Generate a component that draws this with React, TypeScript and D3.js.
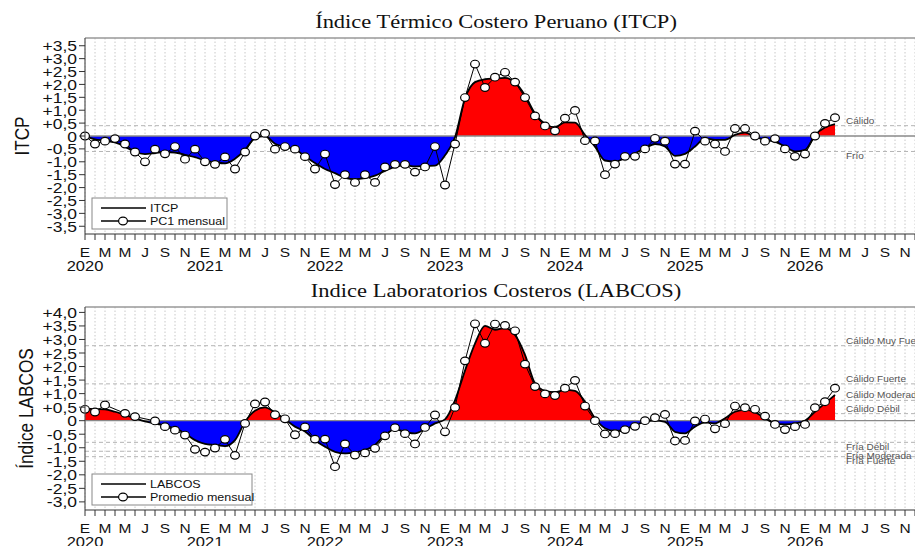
import React from "react";
import * as d3 from "d3";

// ---------- DATA ----------
const monthLabels = ["E", "M", "M", "J", "S", "N"];
const yearLabels = ["2020", "2021", "2022", "2023", "2024", "2025", "2026"];

const itcpMonthly: number[] = [
  0.0, -0.31, -0.2, -0.1, -0.31, -0.62, -1.0, -0.51, -0.69, -0.41, -0.9, -0.51,
  -1.0, -1.1, -0.81, -1.28, -0.62, 0.0, 0.1, -0.51, -0.41, -0.51, -0.8, -1.28,
  -0.7, -1.88, -1.5, -1.8, -1.5, -1.8, -1.2, -1.1, -1.1, -1.4, -1.2, -0.41,
  -1.9, -0.31, 1.49, 2.79, 1.88, 2.28, 2.47, 2.09, 1.49, 0.78, 0.39, 0.2,
  0.69, 0.99, -0.18, -0.19, -1.5, -1.09, -0.79, -0.79, -0.5, -0.09, -0.2, -1.09,
  -1.09, 0.19, -0.2, -0.31, -0.6, 0.29, 0.29, 0.0, -0.2, -0.1, -0.5, -0.79,
  -0.7, 0.0, 0.49, 0.71,
];

const itcpSmooth: number[] = [
  0.0, -0.13, -0.18, -0.25, -0.41, -0.62, -0.7, -0.66, -0.62, -0.64, -0.73, -0.82,
  -0.95, -1.02, -1.06, -0.88, -0.54, -0.08, 0.0, -0.3, -0.42, -0.52, -0.78, -1.05,
  -1.28, -1.44, -1.62, -1.67, -1.63, -1.54, -1.35, -1.2, -1.13, -1.18, -1.16, -1.15,
  -0.75, -0.05, 1.46, 2.09, 2.2, 2.23, 2.25, 2.08, 1.58, 0.87, 0.47, 0.34,
  0.53, 0.52, 0.04, -0.41, -0.95, -0.99, -0.86, -0.67, -0.47, -0.31, -0.41, -0.77,
  -0.69, -0.41, -0.09, -0.15, -0.15, 0.04, 0.13, -0.03, -0.15, -0.22, -0.41, -0.6,
  -0.54, 0.04, 0.33, 0.46,
];

const labcosMonthly: (number | null)[] = [
  0.42, 0.32, 0.58, null, 0.27, 0.15, null, -0.01, -0.22, -0.35, -0.53, -1.06,
  -1.16, -1.01, -0.69, -1.28, -0.1, 0.62, 0.69, 0.22, 0.07, -0.52, -0.23, -0.68,
  -0.68, -1.7, -0.86, -1.27, -1.19, -1.02, -0.56, -0.26, -0.48, -0.86, -0.25, 0.21,
  -0.41, 0.49, 2.21, 3.58, 2.86, 3.57, 3.52, 3.32, 2.09, 1.26, 0.99, 0.93,
  1.2, 1.49, 0.54, 0.0, -0.49, -0.48, -0.33, -0.21, 0.0, 0.11, 0.23, -0.75,
  -0.73, -0.01, 0.06, -0.3, -0.11, 0.54, 0.48, 0.42, 0.17, -0.14, -0.33, -0.22,
  -0.14, 0.48, 0.7, 1.2,
];

const labcosSmooth: number[] = [
  0.44, 0.43, 0.42, 0.33, 0.21, 0.09, -0.03, -0.1, -0.19, -0.28, -0.47, -0.72,
  -0.86, -0.9, -0.94, -0.72, -0.04, 0.37, 0.49, 0.3, 0.05, -0.22, -0.4, -0.72,
  -0.96, -1.15, -1.21, -1.17, -1.09, -0.9, -0.53, -0.32, -0.41, -0.47, -0.31, -0.1,
  0.05, 0.75, 1.85, 2.85, 3.5, 3.36, 3.42, 3.17, 2.43, 1.38, 1.1, 1.05,
  1.14, 1.1, 0.7, 0.09, -0.28, -0.38, -0.31, -0.16, -0.04, 0.0, -0.04, -0.41,
  -0.47, -0.22, -0.06, -0.1, 0.09, 0.33, 0.4, 0.31, 0.09, -0.1, -0.14, -0.1,
  0.0, 0.33, 0.64, 0.95,
];

const itcpThresholdValues = [0.4, -0.6];
const itcpThresholdLabels = ["Cálido", "Frío"];
const labcosThresholdValues = [2.77, 1.36, 0.75, 0.26, -0.8, -1.13, -1.33];
const labcosThresholdLabels = [
  "Cálido Muy Fuerte", "Cálido Fuerte", "Cálido Moderado", "Cálido Débil",
  "Fría Débil", "Fría Moderada", "Fría Fuerte",
];

const itcpTicks = d3.range(-3.5, 3.51, 0.5);
const labcosTicks = d3.range(-3.0, 4.01, 0.5);

// ---------- LAYOUT ----------
const W = 915;
const H = 546;
const X0 = 85;
const X1 = 915;
const NMONTHS = 84;
const SANS = "'Liberation Sans', Arial, sans-serif";
const SERIF = "'Liberation Serif', 'Times New Roman', serif";
const SY = 0.85;

const x = d3.scaleLinear().domain([0, NMONTHS - 1]).range([X0, X1]);

function fmt(v: number) {
  if (Math.abs(v) < 1e-9) return "0";
  return (v > 0 ? "+" : "-") + Math.abs(v).toFixed(1).replace(".", ",");
}

function T(props: any) {
  const { x: tx, y: ty, sy = SY, rotate, children, ...rest } = props;
  const tr = rotate
    ? `translate(${tx},${ty}) rotate(${rotate}) scale(${sy},1)`
    : `translate(${tx},${ty}) scale(1,${sy})`;
  return (
    <text transform={tr} {...rest}>
      {children}
    </text>
  );
}

interface PanelProps {
  id: string;
  top: number;
  bottom: number;
  yDomain: [number, number];
  ticks: number[];
  title: string;
  titleY: number;
  yTitle: string;
  yTitleX: number;
  monthly: (number | null)[];
  smooth: number[];
  thrVals: number[];
  thrLabels: string[];
  legendLabels: string[];
  legendW: number;
}

function Panel(p: PanelProps) {
  const y = d3.scaleLinear().domain(p.yDomain).range([p.bottom, p.top]);
  const y0 = y(0);
  const area = d3
    .area<number>()
    .x((_, i) => x(i))
    .y0(y0)
    .y1((d) => y(d))
    .curve(d3.curveMonotoneX);
  const sLine = d3
    .line<number>()
    .x((_, i) => x(i))
    .y((d) => y(d))
    .curve(d3.curveMonotoneX);
  const pts = p.monthly
    .map((v, i) => ({ i, v }))
    .filter((d) => d.v !== null) as { i: number; v: number }[];
  const mLine = d3
    .line<{ i: number; v: number }>()
    .x((d) => x(d.i))
    .y((d) => y(d.v));
  const months = d3.range(NMONTHS);
  const lgTop = p.bottom - 36;
  const lgX = 92;
  return (
    <g>
      <defs>
        <clipPath id={`${p.id}-pos`}>
          <rect x={X0} y={p.top} width={X1 - X0} height={y0 - p.top} />
        </clipPath>
        <clipPath id={`${p.id}-neg`}>
          <rect x={X0} y={y0} width={X1 - X0} height={p.bottom - y0} />
        </clipPath>
      </defs>
      {/* title */}
      <T x={496} y={p.titleY} sy={0.86} textAnchor="middle" fontFamily={SERIF} fontSize={22.5} fill="#111">
        {p.title}
      </T>
      {/* grid */}
      {months.map((m) => (
        <line key={`g${m}`} x1={x(m)} x2={x(m)} y1={p.top} y2={p.bottom} stroke="#c8c8c8" strokeWidth={1} strokeDasharray="1.5,2" />
      ))}
      {/* thresholds */}
      {p.thrVals.map((v, k) => (
        <line key={`t${k}`} x1={X0} x2={X1} y1={y(v)} y2={y(v)} stroke="#b4b4b4" strokeWidth={1} strokeDasharray="4,3" />
      ))}
      {/* fills */}
      <path d={area(p.smooth) || ""} fill="#ff0000" clipPath={`url(#${p.id}-pos)`} />
      <path d={area(p.smooth) || ""} fill="#0000ff" clipPath={`url(#${p.id}-neg)`} />
      {/* zero line */}
      <line x1={X0} x2={X1} y1={y0} y2={y0} stroke="#8a8a8a" strokeWidth={1.3} />
      {/* threshold labels */}
      {p.thrVals.map((v, k) => (
        <T key={`tl${k}`} x={846} y={v > 0 ? y(v) - 2 : y(v) + 7.5} sy={0.88} fontFamily={SANS} fontSize={10} fill="#555">
          {p.thrLabels[k]}
        </T>
      ))}
      {/* smooth line */}
      <path d={sLine(p.smooth) || ""} fill="none" stroke="#000" strokeWidth={1.8} />
      {/* monthly line + markers */}
      <path d={mLine(pts) || ""} fill="none" stroke="#000" strokeWidth={1} />
      {pts.map((d) => (
        <ellipse key={`c${d.i}`} cx={x(d.i)} cy={y(d.v)} rx={4.4} ry={3.8} fill="#fff" stroke="#000" strokeWidth={1.2} />
      ))}
      {/* frame */}
      <line x1={X0} x2={X1} y1={p.top} y2={p.top} stroke="#999" strokeWidth={1.5} />
      <line x1={X0} x2={X0} y1={p.top} y2={p.bottom} stroke="#555" strokeWidth={1.2} />
      <line x1={X0} x2={X1} y1={p.bottom} y2={p.bottom} stroke="#333" strokeWidth={1} />
      {/* y ticks */}
      {p.ticks.map((t, k) => (
        <g key={`yt${k}`}>
          <line x1={X0 - 6} x2={X0} y1={y(t)} y2={y(t)} stroke="#333" strokeWidth={1} />
          <T x={X0 - 8} y={y(t) + 5.5} textAnchor="end" fontFamily={SANS} fontSize={17.5} fill="#111">
            {fmt(t)}
          </T>
        </g>
      ))}
      {/* x ticks */}
      {months.map((m) => (
        <line key={`xt${m}`} x1={x(m)} x2={x(m)} y1={p.bottom} y2={p.bottom + 6} stroke="#333" strokeWidth={1} />
      ))}
      {months
        .filter((m) => m % 2 === 0)
        .map((m) => (
          <T key={`xl${m}`} x={x(m)} y={p.bottom + 23} textAnchor="middle" fontFamily={SANS} fontSize={15.5} fill="#111">
            {monthLabels[(m % 12) / 2]}
          </T>
        ))}
      {yearLabels.map((yl, k) => (
        <T key={`yl${k}`} x={x(k * 12)} y={p.bottom + 37} textAnchor="middle" fontFamily={SANS} fontSize={16.5} fill="#111">
          {yl}
        </T>
      ))}
      {/* y title */}
      <T x={p.yTitleX} y={(p.top + p.bottom) / 2} sy={0.82} rotate={-90} textAnchor="middle" fontFamily={SANS} fontSize={21} fill="#111">
        {p.yTitle}
      </T>
      {/* legend */}
      <rect x={lgX} y={lgTop} width={p.legendW} height={31} fill="#fff" stroke="#888" strokeWidth={1} />
      <line x1={lgX + 9} x2={lgX + 54} y1={lgTop + 10} y2={lgTop + 10} stroke="#000" strokeWidth={1.3} />
      <line x1={lgX + 9} x2={lgX + 54} y1={lgTop + 23} y2={lgTop + 23} stroke="#000" strokeWidth={1.3} />
      <ellipse cx={lgX + 31} cy={lgTop + 23} rx={4.4} ry={3.8} fill="#fff" stroke="#000" strokeWidth={1.2} />
      <T x={lgX + 58} y={lgTop + 14} fontFamily={SANS} fontSize={12.5} fill="#111">
        {p.legendLabels[0]}
      </T>
      <T x={lgX + 58} y={lgTop + 27} fontFamily={SANS} fontSize={12.5} fill="#111">
        {p.legendLabels[1]}
      </T>
    </g>
  );
}

export default function App() {
  return (
    <svg
      width={W}
      height={H}
      viewBox={`0 0 ${W} ${H}`}
      style={{ display: "block", background: "#fff", position: "absolute", left: 0, top: 0 }}
    >
      <Panel
        id="itcp"
        top={38}
        bottom={234}
        yDomain={[-3.8, 3.8]}
        ticks={itcpTicks}
        title="Índice Térmico Costero Peruano (ITCP)"
        titleY={28}
        yTitle="ITCP"
        yTitleX={29}
        monthly={itcpMonthly}
        smooth={itcpSmooth}
        thrVals={itcpThresholdValues}
        thrLabels={itcpThresholdLabels}
        legendLabels={["ITCP", "PC1 mensual"]}
        legendW={135}
      />
      <Panel
        id="labcos"
        top={307}
        bottom={510}
        yDomain={[-3.3, 4.2]}
        ticks={labcosTicks}
        title="Indice Laboratorios Costeros (LABCOS)"
        titleY={297}
        yTitle="Índice LABCOS"
        yTitleX={33}
        monthly={labcosMonthly}
        smooth={labcosSmooth}
        thrVals={labcosThresholdValues}
        thrLabels={labcosThresholdLabels}
        legendLabels={["LABCOS", "Promedio mensual"]}
        legendW={160}
      />
    </svg>
  );
}
